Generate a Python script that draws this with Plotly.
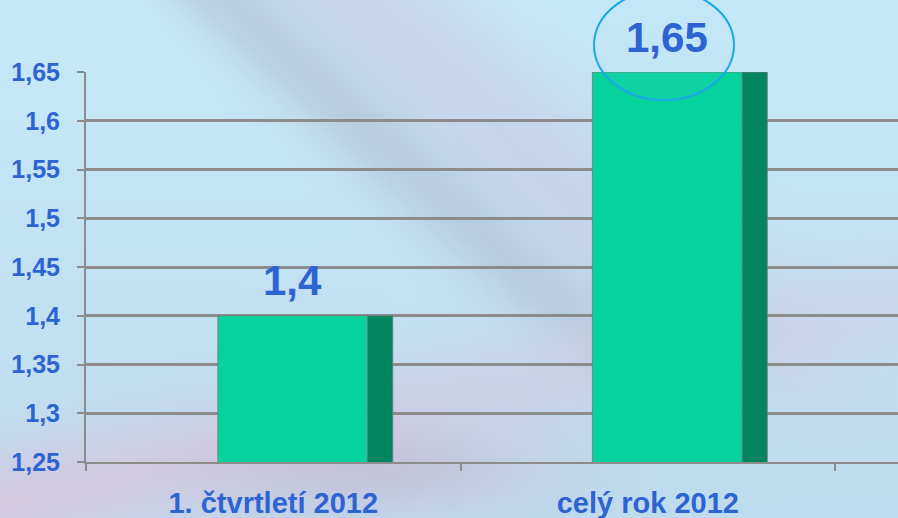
import numpy as np
import zlib, struct, base64
import plotly.graph_objects as go

# ---- data ----
categories = ["1. čtvrtletí 2012", "celý rok 2012"]
values = [1.4, 1.65]
tick_values = [1.25, 1.3, 1.35, 1.4, 1.45, 1.5, 1.55, 1.6, 1.65]
tick_labels = ["1,25", "1,3", "1,35", "1,4", "1,45", "1,5", "1,55", "1,6", "1,65"]
value_labels = ["1,4", "1,65"]

W, H = 898, 518
ML, MR, MT, MB = 86, 0, 72, 56
PW, PH = W - ML - MR, H - MT - MB

BLUE = "#2d64d2"
GRID = "#8c8c8c"
FONT = "Arial, Liberation Sans, sans-serif"


# ---- decorative background (styling only) ----
def png_uri(rgb):
    h, w, _ = rgb.shape
    raw = b"".join(b"\x00" + rgb[y].tobytes() for y in range(h))

    def chunk(t, d):
        c = struct.pack(">I", len(d)) + t + d
        return c + struct.pack(">I", zlib.crc32(t + d) & 0xFFFFFFFF)

    png = (b"\x89PNG\r\n\x1a\n"
           + chunk(b"IHDR", struct.pack(">IIBBBBB", w, h, 8, 2, 0, 0, 0))
           + chunk(b"IDAT", zlib.compress(raw, 9))
           + chunk(b"IEND", b""))
    return "data:image/png;base64," + base64.b64encode(png).decode()


def build_bg():
    s = 2
    w, h = W // s, H // s
    X, Y = np.meshgrid(np.arange(w) * s, np.arange(h) * s)
    img = np.zeros((h, w, 3)) + np.array([198, 233, 248], float)

    def blend(color, a):
        nonlocal img
        a = np.clip(a, 0, 1)[..., None]
        img = img * (1 - a) + np.array(color, float) * a

    def sdist(p1, p2):
        (x1, y1), (x2, y2) = p1, p2
        L = np.hypot(x2 - x1, y2 - y1)
        return ((X - x1) * (y2 - y1) - (Y - y1) * (x2 - x1)) / L

    # vertical drift toward a deeper blue at the bottom
    blend([186, 212, 233], (Y / H) * 0.6)
    # lavender zone right of the streak
    d = sdist((243, 17), (533, 283))
    fade = np.clip(1 - (Y - 260) / 220, 0, 1)
    blend([200, 210, 234], np.exp(-((d - 90) / 80) ** 2) * 0.8 * fade)
    # grey streak (soft)
    blend([176, 194, 212], np.exp(-(d / 38) ** 2) * 0.6 * np.clip(1 - (Y - 300) / 160, 0, 1))
    # pink band across the lower part
    d2 = sdist((0, 505), (898, 300))
    blend([216, 196, 222], np.exp(-(d2 / 55) ** 2) * 0.8 * np.clip(1 - X / 1100, 0.35, 1))
    blend([196, 180, 206], np.exp(-(((X - 380) / 170) ** 2 + ((Y - 470) / 45) ** 2)) * 0.55)
    return png_uri(np.clip(img, 0, 255).astype(np.uint8))


fig = go.Figure()

fig.add_trace(go.Bar(
    x=categories, y=values, width=0.4, offset=-0.148,
    marker=dict(color="#05d29c", line=dict(color="rgba(120,120,120,0.8)", width=1)),
    hoverinfo="x+y",
))
fig.add_trace(go.Bar(
    x=categories, y=values, width=0.067, offset=0.252,
    marker=dict(color="#00855f", line=dict(color="rgba(120,120,120,0.8)", width=1)),
    hoverinfo="skip",
))

for c, v, t in zip(categories, values, value_labels):
    fig.add_annotation(x=c, y=v, text=t, showarrow=False, xshift=19.5, yshift=35,
                       yanchor="middle",
                       font=dict(family=FONT, size=42, color=BLUE, weight="bold"))

# highlight ellipse around the full-year value
fig.add_shape(type="circle", xref="paper", yref="paper",
              x0=(594 - ML) / PW, x1=(734 - ML) / PW,
              y0=(462 - 100) / PH, y1=(462 + 10) / PH,
              line=dict(color="#1aa8e8", width=2),
              fillcolor="rgba(175,228,248,0.06)", layer="above")

fig.add_layout_image(dict(
    source=build_bg(), xref="paper", yref="paper",
    x=-ML / PW, y=1 + MT / PH, sizex=W / PW, sizey=H / PH,
    xanchor="left", yanchor="top", sizing="stretch", layer="below",
))

fig.update_layout(
    width=W, height=H,
    margin=dict(l=ML, r=MR, t=MT, b=MB),
    barmode="overlay",
    showlegend=False,
    paper_bgcolor="#c6e8f8",
    plot_bgcolor="rgba(0,0,0,0)",
    font=dict(family=FONT, color=BLUE),
    xaxis=dict(
        type="category", range=[-0.5, 1.668], tickson="boundaries",
        ticks="outside", ticklen=7, tickwidth=2, tickcolor=GRID,
        showline=True, linecolor=GRID, linewidth=2, showgrid=False,
        tickfont=dict(family=FONT, size=29, color=BLUE, weight="bold"),
        ticklabelstandoff=14,
    ),
    yaxis=dict(
        range=[1.25, 1.65], tickvals=tick_values, ticktext=tick_labels,
        ticks="outside", ticklen=7, tickwidth=2, tickcolor=GRID,
        showline=True, linecolor=GRID, linewidth=2,
        showgrid=True, gridcolor=GRID, gridwidth=2.5, zeroline=False,
        tickfont=dict(family=FONT, size=25, color=BLUE, weight="bold"),
        ticklabelstandoff=12,
    ),
)

fig.write_html("out.html",
               config={"displayModeBar": False},
               post_script="document.body.style.margin='0';"
                           "document.body.style.overflow='hidden';")
